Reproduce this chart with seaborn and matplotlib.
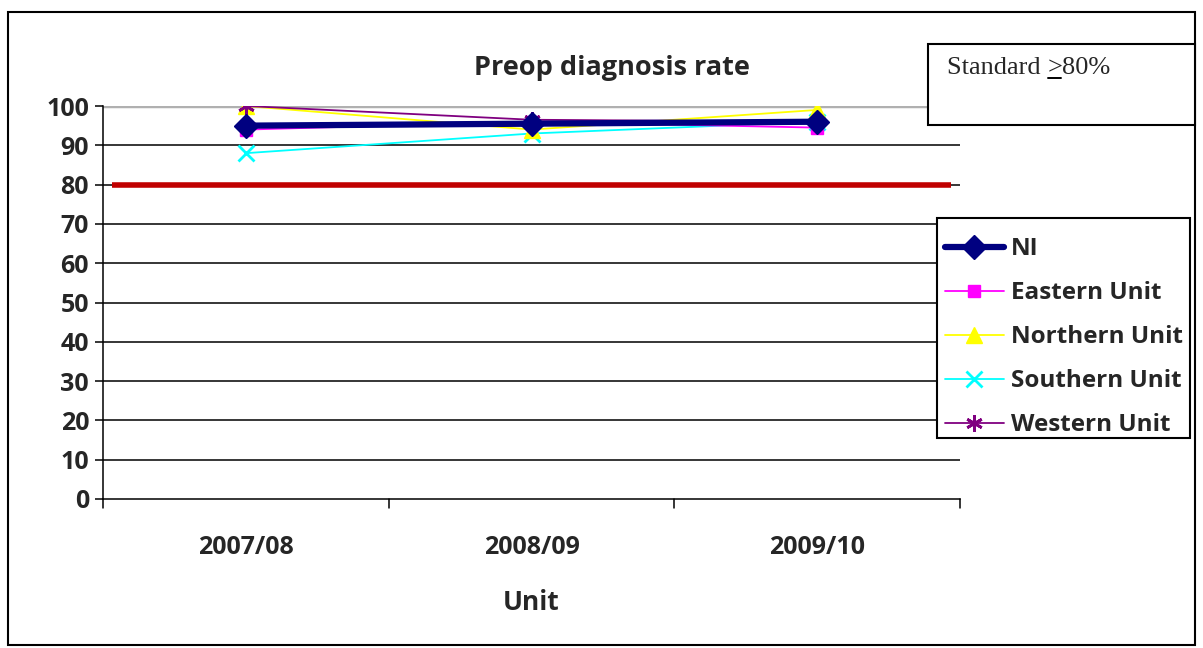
import matplotlib
matplotlib.use("Agg")
import matplotlib.pyplot as plt
from matplotlib.patches import Rectangle
from matplotlib.lines import Line2D
import seaborn as sns
import pandas as pd

years = ["2007/08", "2008/09", "2009/10"]
ni = [95, 95.5, 96]
eastern = [94, 96, 94.5]
northern = [100, 94, 99]
southern = [88, 93, 96]
western = [100, 96.5, 96]
standard = 80

series_names = ["NI", "Eastern Unit", "Northern Unit", "Southern Unit", "Western Unit"]
series_vals = [ni, eastern, northern, southern, western]
colors = ["#000080", "#FF00FF", "#FFFF00", "#00FFFF", "#800080"]
markers = ["D", "s", "^", "x", (6, 2, 0)]
widths = [4.5, 1.3, 1.3, 1.3, 1.3]
msizes = [12, 9, 11, 11, 12]

sns.set_theme(style="white")
plt.rcParams["font.family"] = ["Open Sans", "DejaVu Sans"]

W, H = 1203, 648
fig = plt.figure(figsize=(W / 100, H / 100), dpi=100)
ax = fig.add_axes([103 / W, 1 - 499 / H, (960 - 103) / W, (499 - 106) / H])

# outer chart frame
fig.patches.append(Rectangle((8 / W, 3 / H), 1187 / W, 633 / H,
                             transform=fig.transFigure, fill=False,
                             edgecolor="black", linewidth=1.5, zorder=0))

# horizontal gridlines
for v in range(10, 100, 10):
    ax.axhline(v, color="black", linewidth=1.1, zorder=1)
ax.axhline(100, color="#b0b0b0", linewidth=2.5, zorder=1)

# standard threshold line
ax.plot([-0.47, 2.47], [standard, standard], color="#C00000", linewidth=4, zorder=2,
        solid_capstyle="butt")

for i in [0, 3, 2, 1, 4]:
    df = pd.DataFrame({"Year": years, "Value": series_vals[i]})
    sns.lineplot(data=df, x="Year", y="Value", ax=ax, color=colors[i],
                 linewidth=widths[i], marker=markers[i], markersize=msizes[i],
                 markeredgecolor=colors[i], markeredgewidth=2 if i in (3, 4) else 1,
                 zorder=5 if i == 0 else 4, sort=False)

ax.set_xlim(-0.5, 2.5)
ax.set_ylim(0, 100)
ax.set_yticks(range(0, 101, 10))
ax.set_yticklabels([str(v) for v in range(0, 101, 10)], fontsize=18, fontweight="bold")
ax.set_xticks([0, 1, 2])
ax.set_xticklabels(years, fontsize=18, fontweight="bold")
ax.tick_params(axis="x", length=0, pad=26)
ax.tick_params(axis="y", length=6, width=1.1, color="black", direction="out", pad=4, left=True)
# category boundary ticks below the x axis
for b in [-0.5, 0.5, 1.5, 2.5]:
    ax.plot([b, b], [0, -2.2], color="black", linewidth=1.1, clip_on=False)

for s in ["top", "right"]:
    ax.spines[s].set_visible(False)
ax.spines["left"].set_color("black")
ax.spines["left"].set_linewidth(1.1)
ax.spines["bottom"].set_color("black")
ax.spines["bottom"].set_linewidth(1.1)
ax.set_xlabel("Unit", fontsize=19, fontweight="bold", labelpad=21)
ax.set_ylabel("")
ax.set_title("Preop diagnosis rate", fontsize=19.5, fontweight="bold", pad=22, x=0.594)

# legend box frame, with the entries placed inside it
fig.patches.append(Rectangle((937 / W, 1 - 438 / H), (1190 - 937) / W, (438 - 218) / H,
                             transform=fig.transFigure, facecolor="white",
                             edgecolor="black", linewidth=1.5, zorder=3))
handles = [Line2D([0], [0], color=colors[i], linewidth=widths[i], marker=markers[i],
                  markersize=msizes[i], markeredgecolor=colors[i],
                  markeredgewidth=2 if i in (3, 4) else 1)
           for i in range(5)]
leg = fig.legend(handles, series_names, loc="upper left",
                 bbox_to_anchor=(938 / W, 1 - 230 / H),
                 prop={"family": ["Open Sans"], "weight": "bold", "size": 17.5},
                 frameon=False, handlelength=2.4, labelspacing=0.82, borderpad=0.3,
                 handletextpad=0.3, borderaxespad=0)
leg.set_zorder(4)

# standard note box
fig.patches.append(Rectangle((928 / W, 1 - 125 / H), (1195 - 928) / W, (125 - 44) / H,
                             transform=fig.transFigure, facecolor="white",
                             edgecolor="black", linewidth=1.5, zorder=3))
serif = dict(fontsize=19, family="Liberation Serif", va="baseline", ha="left", zorder=4)
fig.canvas.draw()
renderer = fig.canvas.get_renderer()
inv = fig.transFigure.inverted()
x0, ybase = 947 / W, 1 - 74 / H
t1 = fig.text(x0, ybase, "Standard ", **serif)
bb1 = t1.get_window_extent(renderer)
x1 = inv.transform((bb1.x1, 0))[0]
t2 = fig.text(x1, ybase, ">", **serif)
bb2 = t2.get_window_extent(renderer)
x2 = inv.transform((bb2.x1, 0))[0]
fig.text(x2, ybase, "80%", **serif)
# underline beneath the ">" sign
fig.add_artist(Line2D([x1 + 1 / W, x2 - 1 / W], [ybase - 4 / H, ybase - 4 / H],
                      transform=fig.transFigure, color="black", linewidth=1.4, zorder=4))

fig.savefig("out.png", dpi=100)
